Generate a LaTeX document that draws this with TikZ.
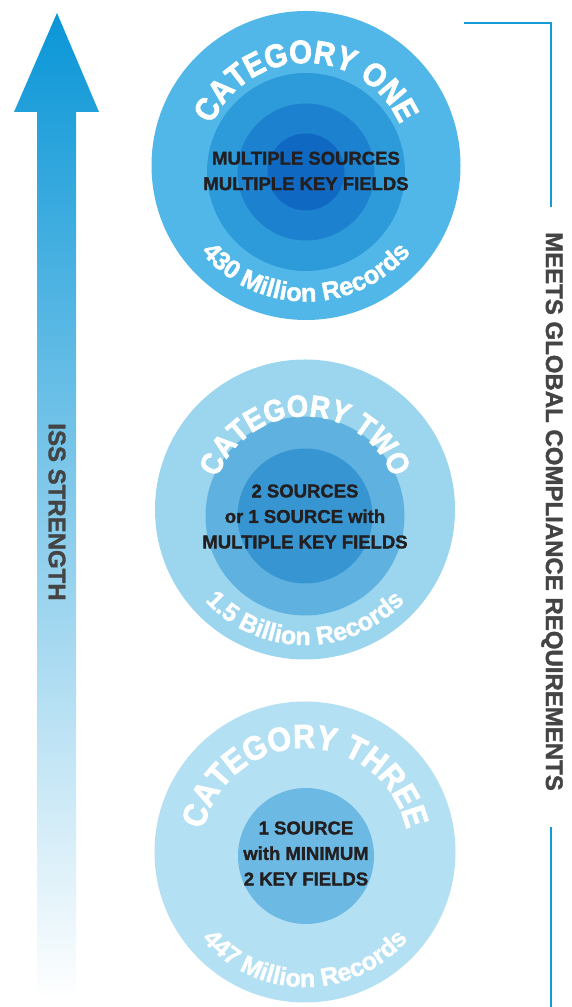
\documentclass[tikz,border=0pt]{standalone}
\usepackage{fontspec}
\setmainfont{Liberation Sans}
\newfontfamily\arcfont{Liberation Sans Bold}[FakeStretch=0.9, FakeBold=2.5]
\newfontfamily\recfont{Liberation Sans Bold}[FakeBold=1.5]
\newfontfamily\heavyfont{Liberation Sans Bold}[FakeBold=1.5]
\usetikzlibrary{decorations.text}
\definecolor{arrowtop}{RGB}{10,150,215}
\definecolor{oneA}{RGB}{80,183,232}
\definecolor{oneB}{RGB}{45,155,218}
\definecolor{oneC}{RGB}{28,130,207}
\definecolor{oneD}{RGB}{15,105,195}
\definecolor{twoA}{RGB}{155,214,238}
\definecolor{twoB}{RGB}{95,178,224}
\definecolor{twoC}{RGB}{55,150,210}
\definecolor{threeA}{RGB}{180,224,243}
\definecolor{threeB}{RGB}{108,186,228}
\definecolor{ink}{RGB}{35,31,32}
\definecolor{sidegray}{RGB}{68,68,68}
\definecolor{bracketblue}{RGB}{20,155,215}
\begin{document}
\begin{tikzpicture}[x=1pt,y=1pt,
  coretext/.style={font=\heavyfont\fontsize{18.5}{25.5}\selectfont, text=ink, align=center},
  sidetext/.style={font=\heavyfont\fontsize{24}{24}\selectfont, text=sidegray, rotate=-90},
  bracket/.style={draw=bracketblue, line width=2.5pt}]
\useasboundingbox (0,0) rectangle (572,1007);
% strength arrow
\shade[top color=arrowtop, bottom color=white] (57,994)--(99,895)--(76,895)--(76,7)
--(37,7)--(37,895)--(14,895)--cycle;
\node[sidetext] (iss) at (57,495) {ISS STRENGTH};
% category one
\fill[oneA] (306,841.5) circle[radius=154.5];
\fill[oneB] (306,835) circle[radius=99];
\fill[oneC] (306,835) circle[radius=68.5];
\fill[oneD] (306,835) circle[radius=38.5];
\path[decorate, decoration={text along path, text align=center, text color=white,
  text={|\arcfont\fontsize{32.5}{32.5}\selectfont|CATEGORY ONE}}]
  (306,841.5) ++(180:102.5) arc[start angle=180, end angle=0, radius=102.5];
\path[decorate, decoration={text along path, text align=center, text color=white,
  text={|\recfont\fontsize{25.5}{25.5}\selectfont|430 Million Records}}]
  (306,841.5) ++(180:136) arc[start angle=180, end angle=360, radius=136];
\node[coretext] (one) at (306,836) {MULTIPLE SOURCES\\MULTIPLE KEY FIELDS};
% category two
\fill[twoA] (305,497.5) circle[radius=150];
\fill[twoB] (305,491) circle[radius=99.5];
\fill[twoC] (305,491) circle[radius=67.5];
\path[decorate, decoration={text along path, text align=center, text color=white,
  text={|\arcfont\fontsize{30.5}{30.5}\selectfont|CATEGORY TWO}}]
  (305,497.5) ++(180:93) arc[start angle=180, end angle=0, radius=93];
\path[decorate, decoration={text along path, text align=center, text color=white,
  text={|\recfont\fontsize{25}{25}\selectfont|1.5 Billion Records}}]
  (305,497.5) ++(180:135.5) arc[start angle=180, end angle=360, radius=135.5];
\node[coretext] (two) at (305,490.5) {2 SOURCES\\or 1 SOURCE with\\MULTIPLE KEY FIELDS};
% category three
\fill[threeA] (305,155) circle[radius=150.5];
\fill[threeB] (306,151) circle[radius=68];
\path[decorate, decoration={text along path, text align=center, text color=white,
  text={|\arcfont\fontsize{33.5}{33.5}\selectfont|CATEGORY THREE}}]
  (305,155) ++(180:104) arc[start angle=180, end angle=0, radius=104];
\path[decorate, decoration={text along path, text align=center, text color=white,
  text={|\recfont\fontsize{25}{25}\selectfont|447 Million Records}}]
  (305,155) ++(180:135) arc[start angle=180, end angle=360, radius=135];
\node[coretext] (three) at (306,153.5) {1 SOURCE\\with MINIMUM\\2 KEY FIELDS};
% compliance bracket
\node[sidetext] (meets) at (552,495.5) {MEETS GLOBAL COMPLIANCE REQUIREMENTS};
\draw[bracket] (464,984) -- (551,984) -- (551,800);
\draw[bracket] (551,180) -- (551,0);
\end{tikzpicture}
\end{document}
